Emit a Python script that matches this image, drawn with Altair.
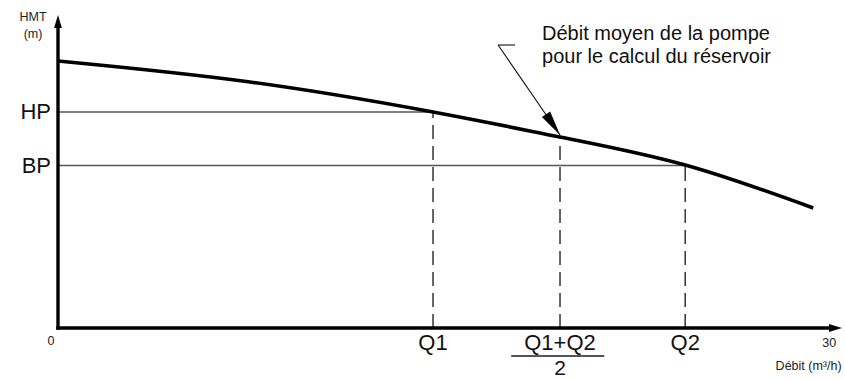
import altair as alt
import pandas as pd

# ---- data (x: débit m3/h, y: HMT m) ----
curve_q = [0, 7.47, 14.59, 19.53, 24.4, 29.38]
curve_h = [53.4, 49.2, 43.2, 38.2, 32.6, 24.0]

q_names = ["Q1", "Q1+Q2", "Q2"]
q_values = [14.59, 19.53, 24.4]
q_heads = [43.2, 38.2, 32.5]

level_names = ["HP", "BP"]
level_values = [43.2, 32.5]
level_ends = [14.59, 24.4]

x_max = 30.5
y_max = 62.6

annot_lines = ["Débit moyen de la pompe", "pour le calcul du réservoir"]

FONT = "Liberation Sans"
xs = alt.Scale(domain=[0, x_max], nice=False, zero=False)
ys = alt.Scale(domain=[0, y_max], nice=False, zero=False)


def X(f="x"):
    return alt.X(f"{f}:Q", scale=xs, axis=None)


def Y(f="y"):
    return alt.Y(f"{f}:Q", scale=ys, axis=None)


# curve
curve_df = pd.DataFrame({"x": curve_q, "y": curve_h})
curve = alt.Chart(curve_df).mark_line(color="black", strokeWidth=3.6, interpolate="natural").encode(
    x=X(), y=Y()
)

# HP / BP horizontal lines
lev_df = pd.DataFrame({"name": level_names, "y": level_values, "x": [0, 0], "x2": level_ends})
lev_lines = alt.Chart(lev_df).mark_rule(color="#555555", strokeWidth=1.5).encode(
    x=X(), x2="x2:Q", y=Y()
)
lev_text = alt.Chart(lev_df).mark_text(
    font=FONT, fontSize=22, align="right", baseline="middle", dx=-7, color="#111111"
).encode(x=X(), y=Y(), text="name:N")

# dashed verticals
q_df = pd.DataFrame({"name": q_names, "x": q_values, "y": q_heads, "y0": [0, 0, 0]})
q_lines = alt.Chart(q_df).mark_rule(color="#333333", strokeWidth=1.5, strokeDash=[14, 7]).encode(
    x=X(), y=Y("y0"), y2="y:Q"
)
q_text = alt.Chart(q_df).mark_text(
    font=FONT, fontSize=22, align="center", baseline="middle", dy=15, color="#111111"
).encode(x=X(), y=alt.Y("y0:Q", scale=ys, axis=None), text="name:N")

# fraction bar and denominator
frac_df = pd.DataFrame({"x": [17.63], "x2": [21.25], "y": [0]})
frac_bar = alt.Chart(frac_df).mark_rule(color="#555555", strokeWidth=2, yOffset=28).encode(
    x=X(), x2="x2:Q", y=Y()
)
den_df = pd.DataFrame({"x": [q_values[1]], "y": [0], "t": ["2"]})
den = alt.Chart(den_df).mark_text(
    font=FONT, fontSize=21, align="center", baseline="middle", dy=41, color="#111111"
).encode(x=X(), y=Y(), text="t:N")

# axes
axes_df = pd.DataFrame({"x": [0, 0], "x2": [0, x_max - 0.4], "y": [0, 0], "y2": [y_max - 2.2, 0]})
axes = alt.Chart(axes_df).mark_rule(color="black", strokeWidth=3.4, strokeCap="square").encode(
    x=X(), x2="x2:Q", y=Y(), y2="y2:Q"
)
arrow_df = pd.DataFrame({"x": [0, x_max], "y": [y_max, 0], "a": [0, 90]})
arrows = alt.Chart(arrow_df).mark_point(
    shape="M0,0 L-0.6,2 L0.6,2 Z", size=169, filled=True, fill="black", stroke=None, opacity=1
).encode(x=X(), y=Y(), angle=alt.Angle("a:Q", scale=None))

# axis texts
small_df = pd.DataFrame({
    "x": [0, 30, 29.2, -0.97, -0.97],
    "y": [0, 0, 0, 62.6, 62.6],
    "t": ["0", "30", "Débit (m³/h)", "HMT", "(m)"],
})
small_texts = []
for t, dx_, dy_ in [("0", -7, 13), ("30", 0, 15), ("Débit (m³/h)", 0, 38), ("HMT", 0, 2), ("(m)", 0, 19)]:
    sub = small_df[small_df.t == t]
    small_texts.append(
        alt.Chart(sub).mark_text(
            font=FONT, fontSize=12.5, align="center", baseline="middle", dx=dx_, dy=dy_, color="#222222"
        ).encode(x=X(), y=Y(), text="t:N")
    )

# annotation
ann_df = pd.DataFrame({"x": [18.83, 18.83], "y": [58.8, 54.2], "t": annot_lines})
ann_text = alt.Chart(ann_df).mark_text(
    font=FONT, fontSize=20, align="left", baseline="middle", color="#111111"
).encode(x=X(), y=Y(), text="t:N")

lead_df = pd.DataFrame({"x": [17.78, 17.12], "y": [56.6, 56.6], "x2": [17.12, 19.53], "y2": [56.6, 38.6]})
lead = alt.Chart(lead_df).mark_rule(color="#111111", strokeWidth=1.1).encode(
    x=X(), x2="x2:Q", y=Y(), y2="y2:Q"
)
head_df = pd.DataFrame({"x": [19.53], "y": [38.6], "a": [326]})
lead_head = alt.Chart(head_df).mark_point(
    shape="M0,0 L-0.4,-2 L0.4,-2 Z", size=625, filled=True, fill="black", stroke=None, opacity=1
).encode(x=X(), y=Y(), angle=alt.Angle("a:Q", scale=None))

chart = alt.layer(
    lev_lines, q_lines, frac_bar, curve, axes, arrows, lead, lead_head,
    lev_text, q_text, den, ann_text, *small_texts
).properties(
    width=784, height=313,
    padding={"left": 58, "top": 15, "right": 3, "bottom": 53},
    autosize=alt.AutoSizeParams(type="none"),
    background="white",
).configure_view(stroke=None)

chart.save("out.html", embed_options={"renderer": "svg", "actions": False})
